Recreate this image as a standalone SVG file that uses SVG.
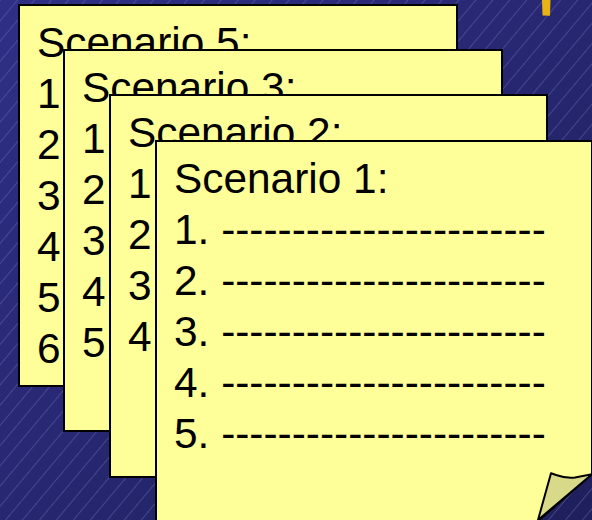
<svg xmlns="http://www.w3.org/2000/svg" width="592" height="520" viewBox="0 0 592 520">
  <defs>
    <linearGradient id="bg" x1="0" y1="0" x2="1" y2="1">
      <stop offset="0" stop-color="#2f2f86"/>
      <stop offset="1" stop-color="#1f1f5c"/>
    </linearGradient>
    <pattern id="stripes" patternUnits="userSpaceOnUse" width="13" height="10" patternTransform="rotate(40)">
      <line x1="0.5" y1="0" x2="0.5" y2="10" stroke="#6a6ab4" stroke-width="0.8" stroke-opacity="0.6"/>
    </pattern>
  </defs>
  <style>
    .card { fill: #ffff99; stroke: #000; stroke-width: 2; }
    .t { font-family: "Liberation Sans", Arial, sans-serif; font-size: 42.4px; fill: #000; }
  </style>

  <rect x="0" y="0" width="592" height="520" fill="url(#bg)"/>
  <rect x="0" y="0" width="592" height="520" fill="url(#stripes)"/>
  <polygon points="542,0 550.5,0 550,15.7 542.5,15.5" fill="#e6b415"/>

  <g id="card5">
    <rect class="card" x="19" y="5" width="438" height="381"/>
    <text class="t" x="37" y="57">Scenario 5:</text>
    <text class="t" x="37" y="108">1</text>
    <text class="t" x="37" y="159">2</text>
    <text class="t" x="37" y="210">3</text>
    <text class="t" x="37" y="261">4</text>
    <text class="t" x="37" y="312">5</text>
    <text class="t" x="37" y="363">6</text>
  </g>

  <g id="card3">
    <rect class="card" x="64" y="50" width="438" height="381"/>
    <text class="t" x="82" y="102">Scenario 3:</text>
    <text class="t" x="82" y="153">1</text>
    <text class="t" x="82" y="204">2</text>
    <text class="t" x="82" y="255">3</text>
    <text class="t" x="82" y="306">4</text>
    <text class="t" x="82" y="357">5</text>
  </g>

  <g id="card2">
    <rect class="card" x="110" y="95" width="437" height="382"/>
    <text class="t" x="128" y="147">Scenario 2:</text>
    <text class="t" x="128" y="198">1</text>
    <text class="t" x="128" y="249">2</text>
    <text class="t" x="128" y="300">3</text>
    <text class="t" x="128" y="351">4</text>
  </g>

  <g id="card1">
    <path class="card" d="M156,141 H592 V474 L538,521 H156 Z"/>
    <path d="M538,520 L551,473.3 Q553,474 556,475 Q566,478.5 575,477.5 Q583,476 592,474.3 Z" fill="#d9d98a" stroke="#000" stroke-width="2" stroke-linejoin="round"/>
    <text class="t" x="174" y="193">Scenario 1:</text>
    <text class="t" x="174" y="244">1. -----------------------</text>
    <text class="t" x="174" y="295">2. -----------------------</text>
    <text class="t" x="174" y="346">3. -----------------------</text>
    <text class="t" x="174" y="397">4. -----------------------</text>
    <text class="t" x="174" y="448">5. -----------------------</text>
  </g>

  <g id="connectors"/>
</svg>
